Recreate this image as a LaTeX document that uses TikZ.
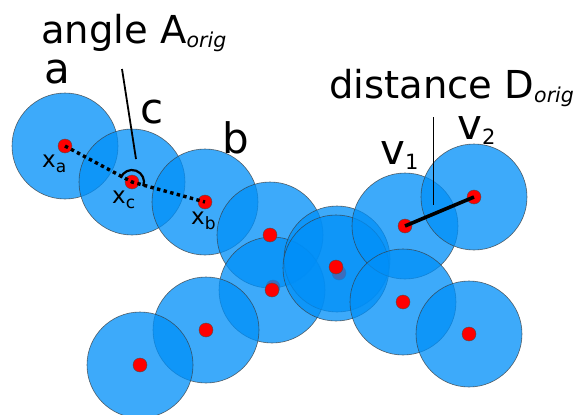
\documentclass[tikz,border=0pt]{standalone}
\usepackage{fontspec}
\setmainfont{DejaVu Sans}[ItalicFont={DejaVu Sans Oblique}]
\usetikzlibrary{calc}
\definecolor{Sphere_Blue}{RGB}{0,143,248}
\definecolor{Sphere_Edge}{HTML}{3A3A3A}
\definecolor{Core_Red}{HTML}{FF0000}
\newcommand{\origsub}{\raisebox{-4pt}{\fontsize{20.5}{24}\selectfont\itshape orig}}
\newcommand{\lblsub}[1]{\raisebox{-5pt}{\fontsize{21}{24}\selectfont #1}}
\newcommand{\possub}[1]{\raisebox{-5pt}{\fontsize{17}{20}\selectfont #1}}

\begin{document}
\begin{tikzpicture}[x=1pt, y=-1pt,
  sphere/.style={fill=Sphere_Blue, fill opacity=0.76, draw=Sphere_Edge, draw opacity=0.75, line width=0.6pt},
  core/.style={circle, fill=Core_Red, draw=black!70, line width=0.4pt, inner sep=0pt, minimum size=14pt},
  biglbl/.style={font=\fontsize{42}{48}\selectfont, inner sep=0pt, anchor=base},
  toplbl/.style={font=\fontsize{38.5}{46}\selectfont, inner sep=0pt, anchor=base west},
  poslbl/.style={font=\fontsize{23}{28}\selectfont, inner sep=0pt, anchor=base west}]
\useasboundingbox (0,0) rectangle (579,415);
% --- Spheres (hidden cores drawn before the sphere that covers them) ---
\foreach \px/\py in {65/146, 132/182, 205/202, 270/235}
  \draw[sphere] (\px,\py) circle[radius=53pt];
\node[core] (h1) at (273,287) {};
\draw[sphere] (272,290) circle[radius=53pt];
\draw[sphere] (337,259) circle[radius=53pt];
\node[core] (h2) at (339,273) {};
\foreach \px/\py in {336/268, 405/226, 474/197, 403/302, 469/334, 206/330, 140/365}
  \draw[sphere] (\px,\py) circle[radius=53pt];
% --- Cores ---
\foreach \name/\px/\py in {xa/65/146, xc/132/182, xb/205/202, p4/270/235, p5/272/290,
    p6/336/267, v1/405/226, v2/474/197, p8/403/302, p9/469/334, p10/206/330, p11/140/365}
  \node[core] (\name) at (\px,\py) {};
% --- Angle and distance ---
\draw[line width=3.4pt, dash pattern=on 3.4pt off 3.4pt] (xa.center) -- (xc.center) -- (xb.center);
\draw[line width=2.2pt] ($(xc.center)+(-20:12pt)$) arc[start angle=-20, end angle=160, radius=12pt];
\draw[line width=3.6pt] (v1.center) -- (v2.center);
% --- Labels ---
\node[toplbl] (angLbl) at (41,43) {angle A\origsub};
\node[toplbl] (distLbl) at (329,98) {distance D\origsub};
\coordinate (angFoot) at (122,69);
\coordinate (angTip) at (136,159);
\draw[line width=1.8pt] (angFoot) -- (angTip);
\coordinate (distFoot) at (433,117);
\coordinate (distTip) at (433,205);
\draw[line width=1pt] (distFoot) -- (distTip);
\node[biglbl] (lblA) at (57,83) {a};
\node[biglbl] (lblC) at (152,123) {c};
\node[biglbl] (lblB) at (236,153) {b};
\node[biglbl, anchor=base west] (lblV1) at (380,164) {v\lblsub{1}};
\node[biglbl, anchor=base west] (lblV2) at (457,139) {v\lblsub{2}};
\node[poslbl] (txa) at (42,167) {x\possub{a}};
\node[poslbl] (txc) at (112,203) {x\possub{c}};
\node[poslbl] (txb) at (191,224) {x\possub{b}};
\end{tikzpicture}
\end{document}
